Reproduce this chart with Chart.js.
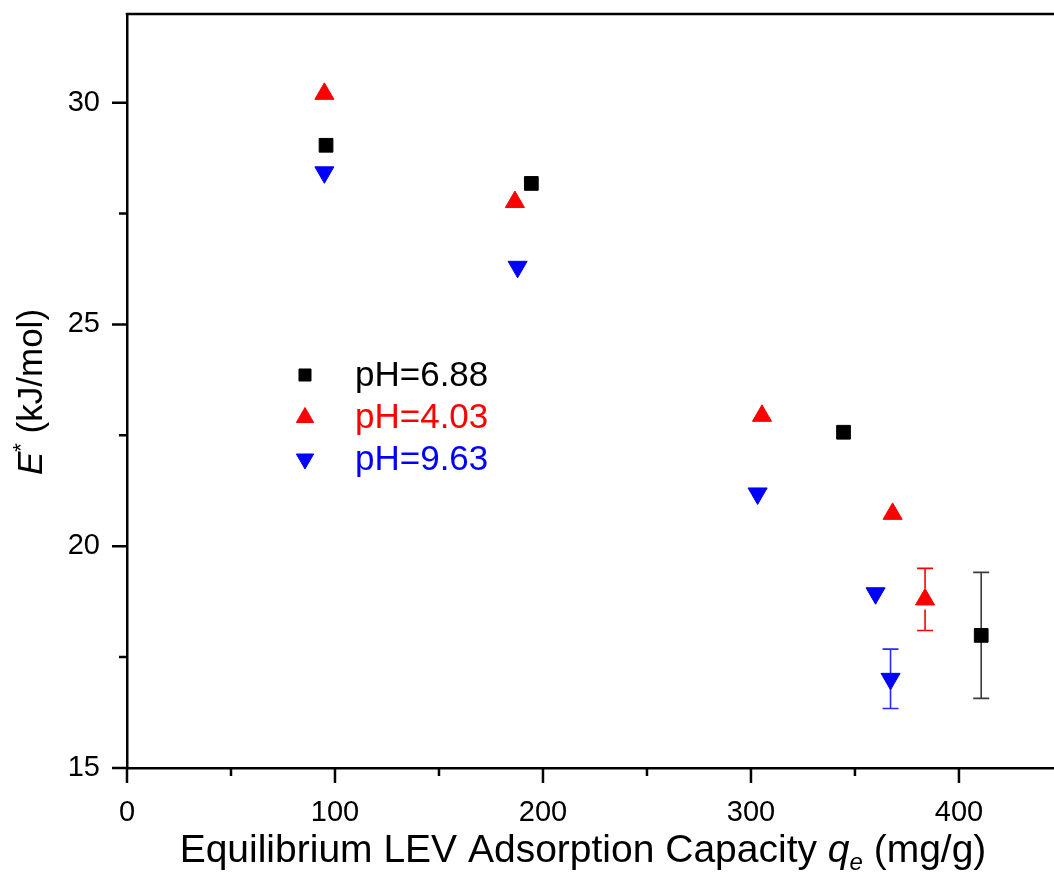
<!DOCTYPE html>
<html><head><meta charset="utf-8">
<script src="https://cdn.jsdelivr.net/npm/chart.js@4.4.1/dist/chart.umd.min.js"></script>
<style>html,body{margin:0;padding:0;background:#fff}#wrap{width:1054px;height:876px;position:relative}</style>
</head><body><div id="wrap"><canvas id="c" width="1054" height="876"></canvas></div>
<script>
// ---- data ----
const seriesLabels = ['pH=6.88', 'pH=4.03', 'pH=9.63'];
const qe688 = [95.7, 194.4, 344.5, 410.7];
const E688  = [29.04, 28.18, 22.57, 17.99];
const err688 = [null, null, null, 1.42];
const qe403 = [94.9, 186.5, 305.3, 368.1, 383.7];
const E403  = [30.20, 27.76, 22.94, 20.73, 18.80];
const err403 = [null, null, null, null, 0.70];
const qe963 = [94.9, 187.8, 303.2, 359.9, 367.1];
const E963  = [28.43, 26.30, 21.19, 18.94, 17.01];
const err963 = [null, null, null, null, 0.67];
const xTicks = [0, 100, 200, 300, 400];
const xMinorTicks = [50, 150, 250, 350];
const yTicks = [15, 20, 25, 30];
const yMinorTicks = [17.5, 22.5, 27.5];

const FONT = '"Liberation Sans", Arial, sans-serif';
const toPts = (xs, ys) => xs.map((x, i) => ({x, y: ys[i]}));

const datasets = [
  {label: seriesLabels[0], data: toPts(qe688, E688), errors: err688, errColor: '#3c3c3c',
   pointStyle: 'rect', rotation: 0, pointRadius: 9.7, backgroundColor: '#000', borderColor: '#000',
   lgRadius: 8.5, gapUp: 0, gapDown: 0},
  {label: seriesLabels[1], data: toPts(qe403, E403), errors: err403, errColor: '#ff0000',
   pointStyle: 'triangle', rotation: 0, pointRadius: 11, backgroundColor: '#ff0000', borderColor: '#ff0000',
   lgRadius: 10, gapUp: 11, gapDown: 10},
  {label: seriesLabels[2], data: toPts(qe963, E963), errors: err963, errColor: '#2a2aff',
   pointStyle: 'triangle', rotation: 180, pointRadius: 11, backgroundColor: '#0000ff', borderColor: '#0000ff',
   lgRadius: 10, gapUp: 5, gapDown: 10}
];
datasets.forEach(d => { d.pointBorderWidth = 1; d.pointHoverRadius = d.pointRadius; d.showLine = false; });

const errorBars = {
  id: 'errorBars',
  beforeDatasetsDraw(chart) {
    const ctx = chart.ctx, xs = chart.scales.x, ys = chart.scales.y;
    chart.data.datasets.forEach(ds => {
      ds.data.forEach((p, i) => {
        const e = ds.errors[i];
        if (e == null) return;
        const px = xs.getPixelForValue(p.x);
        const py = ys.getPixelForValue(p.y);
        const top = ys.getPixelForValue(p.y + e);
        const bot = ys.getPixelForValue(p.y - e);
        ctx.save();
        ctx.strokeStyle = ds.errColor; ctx.lineWidth = 1.6;
        ctx.beginPath();
        ctx.moveTo(px, top); ctx.lineTo(px, py - ds.gapUp);
        ctx.moveTo(px, py + ds.gapDown); ctx.lineTo(px, bot);
        ctx.moveTo(px - 8, top); ctx.lineTo(px + 8, top);
        ctx.moveTo(px - 8, bot); ctx.lineTo(px + 8, bot);
        ctx.stroke();
        ctx.restore();
      });
    });
  }
};

const frame = {
  id: 'frame',
  afterDraw(chart) {
    const ctx = chart.ctx, ca = chart.chartArea, xs = chart.scales.x, ys = chart.scales.y;
    ctx.save();
    ctx.strokeStyle = '#000'; ctx.lineWidth = 2.5; ctx.lineCap = 'butt';
    // top frame line
    ctx.beginPath(); ctx.moveTo(ca.left - 1.25, ca.top); ctx.lineTo(ca.right + 2, ca.top); ctx.stroke();
    ctx.beginPath();
    xTicks.forEach(v => { const x = xs.getPixelForValue(v); ctx.moveTo(x, ca.bottom); ctx.lineTo(x, ca.bottom + 15); });
    xMinorTicks.forEach(v => { const x = xs.getPixelForValue(v); ctx.moveTo(x, ca.bottom); ctx.lineTo(x, ca.bottom + 8); });
    yTicks.forEach(v => { const y = ys.getPixelForValue(v); ctx.moveTo(ca.left, y); ctx.lineTo(ca.left - 15, y); });
    yMinorTicks.forEach(v => { const y = ys.getPixelForValue(v); ctx.moveTo(ca.left, y); ctx.lineTo(ca.left - 8, y); });
    ctx.stroke();

    // legend
    const lx = ca.left + 178, tx = ca.left + 228;
    const rows = [ca.top + 361, ca.top + 403.5, ca.top + 445];
    ctx.font = '35px ' + FONT; ctx.textBaseline = 'middle'; ctx.textAlign = 'left';
    chart.data.datasets.forEach((ds, i) => {
      ctx.fillStyle = ds.backgroundColor; ctx.strokeStyle = ds.borderColor; ctx.lineWidth = 1;
      Chart.helpers.drawPoint(ctx, {pointStyle: ds.pointStyle, rotation: ds.rotation, radius: ds.lgRadius, borderWidth: 1}, lx, rows[i]);
      ctx.fillStyle = ds.backgroundColor;
      ctx.fillText(ds.label, tx, rows[i] + 1);
    });

    // x title
    ctx.fillStyle = '#000'; ctx.textBaseline = 'alphabetic';
    const xs1 = 39;
    const segs = [
      {t: 'Equilibrium LEV Adsorption Capacity ', f: xs1 + 'px ' + FONT, dy: 0},
      {t: 'q', f: 'italic ' + xs1 + 'px ' + FONT, dy: 0},
      {t: 'e', f: 'italic ' + Math.round(xs1 * 0.62) + 'px ' + FONT, dy: 8},
      {t: ' (mg/g)', f: xs1 + 'px ' + FONT, dy: 0}
    ];
    let total = 0;
    segs.forEach(s => { ctx.font = s.f; s.w = ctx.measureText(s.t).width; total += s.w; });
    let cx = 583 - total / 2;
    segs.forEach(s => { ctx.font = s.f; ctx.fillText(s.t, cx, 862 + s.dy); cx += s.w; });

    // y title
    ctx.save();
    ctx.translate(42, 392);
    ctx.rotate(-Math.PI / 2);
    const ys1 = 35;
    const ysegs = [
      {t: 'E', f: 'italic ' + ys1 + 'px ' + FONT, dy: 0},
      {t: '*', f: Math.round(ys1 * 0.62) + 'px ' + FONT, dy: -14},
      {t: ' (kJ/mol)', f: ys1 + 'px ' + FONT, dy: 0}
    ];
    let yt = 0;
    ysegs.forEach(s => { ctx.font = s.f; s.w = ctx.measureText(s.t).width; yt += s.w; });
    let cy = -yt / 2;
    ysegs.forEach(s => { ctx.font = s.f; ctx.fillText(s.t, cy, s.dy); cy += s.w; });
    ctx.restore();
    ctx.restore();
  }
};

new Chart(document.getElementById('c'), {
  type: 'scatter',
  data: {datasets},
  options: {
    responsive: false, animation: false, devicePixelRatio: 1,
    layout: {autoPadding: false, padding: {left: 0, right: 0, top: 14, bottom: 0}},
    plugins: {legend: {display: false}, tooltip: {enabled: false}},
    scales: {
      x: {
        type: 'linear', min: 0, max: 445.7,
        afterBuildTicks: s => { s.ticks = xTicks.map(v => ({value: v})); },
        afterFit: s => { s.height = 108; s.paddingLeft = 0; s.paddingRight = 0; },
        grid: {display: false, drawTicks: false},
        border: {display: true, color: '#000', width: 2.5},
        ticks: {color: '#000', font: {family: FONT, size: 29}, padding: 28, maxRotation: 0}
      },
      y: {
        type: 'linear', min: 15, max: 32,
        afterBuildTicks: s => { s.ticks = yTicks.map(v => ({value: v})); },
        afterFit: s => { s.width = 127; s.paddingTop = 0; s.paddingBottom = 0; },
        grid: {display: false, drawTicks: false},
        border: {display: true, color: '#000', width: 2.5},
        ticks: {color: '#000', font: {family: FONT, size: 29}, padding: 27}
      }
    }
  },
  plugins: [errorBars, frame]
});
</script></body></html>
